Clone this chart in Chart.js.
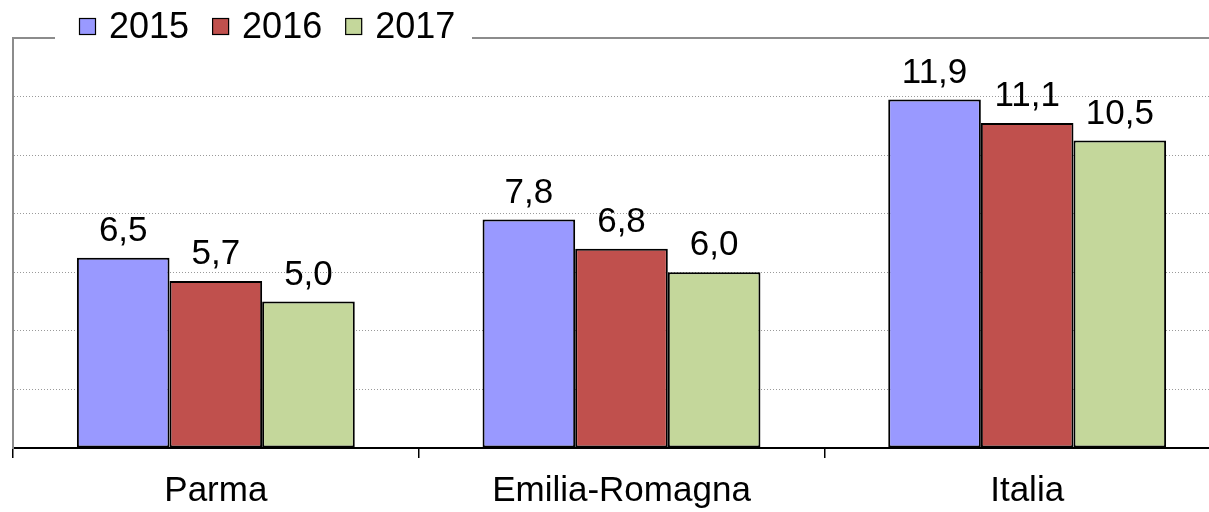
<!DOCTYPE html>
<html>
<head>
<meta charset="utf-8">
<script src="https://cdn.jsdelivr.net/npm/chart.js@4/dist/chart.umd.min.js"></script>
<style>
    html, body { margin: 0; padding: 0; background: #fff; overflow: hidden; }
    #bar-chart { display: block; }
</style>
</head>
<body>
<canvas id="bar-chart" width="1230" height="512"></canvas>
<script>
const categories = ['Parma', 'Emilia-Romagna', 'Italia'];
const years = ['2015', '2016', '2017'];
const values2015 = [6.5, 7.8, 11.9];
const values2016 = [5.7, 6.8, 11.1];
const values2017 = [5.0, 6.0, 10.5];
const yTicks = [0, 2, 4, 6, 8, 10, 12, 14];

const colors = ['#9999FF', '#C0504D', '#C4D79B'];
const FONT = '"Liberation Sans", Arial, sans-serif';

// numeri con la virgola decimale
const fmt = v => v.toFixed(1).replace('.', ',');

// etichette sopra le barre
const valueLabels = {
    id: 'valueLabels',
    afterDatasetsDraw(chart) {
        const ctx = chart.ctx;
        ctx.save();
        ctx.font = '35px ' + FONT;
        ctx.fillStyle = '#000';
        ctx.textAlign = 'center';
        ctx.textBaseline = 'alphabetic';
        chart.data.datasets.forEach((ds, i) => {
            chart.getDatasetMeta(i).data.forEach((bar, j) => {
                ctx.fillText(fmt(ds.data[j]), bar.x, bar.y - 17);
            });
        });
        ctx.restore();
    }
};

// bordo superiore dell'area e legenda sopra di esso
const topFrame = {
    id: 'topFrame',
    afterDraw(chart) {
        const ctx = chart.ctx;
        const area = chart.chartArea;
        ctx.save();
        ctx.strokeStyle = '#8c8c8c';
        ctx.lineWidth = 2;
        ctx.beginPath();
        ctx.moveTo(area.left - 1, area.top);
        ctx.lineTo(chart.width, area.top);
        ctx.stroke();

        // sfondo bianco della legenda
        ctx.fillStyle = '#fff';
        ctx.fillRect(55, 0, 417, area.top + 6);

        ctx.font = '36px ' + FONT;
        ctx.textBaseline = 'alphabetic';
        let x = 79;
        chart.data.datasets.forEach(ds => {
            ctx.fillStyle = ds.backgroundColor;
            ctx.fillRect(x, 18, 17, 17);
            ctx.strokeStyle = '#000';
            ctx.lineWidth = 1.2;
            ctx.strokeRect(x + 0.5, 18.5, 16, 16);
            ctx.fillStyle = '#000';
            ctx.fillText(ds.label, x + 30, 38);
            x += 31 + ctx.measureText(ds.label).width + 22;
        });
        ctx.restore();
    }
};

const series = [values2015, values2016, values2017];

new Chart(document.getElementById('bar-chart'), {
    type: 'bar',
    data: {
        labels: categories,
        datasets: years.map((y, i) => ({
            label: y,
            data: series[i],
            backgroundColor: colors[i],
            borderColor: '#000',
            borderWidth: 2,
            borderSkipped: false,
            categoryPercentage: 0.685,
            barPercentage: 1.0
        }))
    },
    options: {
        responsive: false,
        animation: false,
        layout: { padding: { left: 13, top: 38, right: 0, bottom: 0 } },
        plugins: {
            legend: { display: false },
            tooltip: { enabled: false }
        },
        scales: {
            x: {
                grid: {
                    offset: true,
                    drawOnChartArea: false,
                    drawTicks: true,
                    tickLength: 10,
                    color: '#000',
                    lineWidth: 1.5
                },
                border: { display: true, color: '#000', width: 2 },
                ticks: {
                    font: { family: FONT, size: 35 },
                    color: '#000',
                    padding: 12,
                    maxRotation: 0
                },
                afterFit(scale) { scale.height = 64; }
            },
            y: {
                min: yTicks[0],
                max: yTicks[yTicks.length - 1],
                afterBuildTicks(scale) {
                    scale.ticks = yTicks.map(v => ({ value: v }));
                },
                ticks: { display: false },
                grid: {
                    drawTicks: false,
                    color: c => (c.tick && (c.tick.value === 0 || c.tick.value === 14)) ? 'rgba(0,0,0,0)' : '#9a9a9a',
                    lineWidth: 1
                },
                border: { display: true, color: '#8c8c8c', width: 2, dash: [1, 2] },
                afterFit(scale) { scale.width = 0; }
            }
        }
    },
    plugins: [valueLabels, topFrame]
});
</script>
</body>
</html>
